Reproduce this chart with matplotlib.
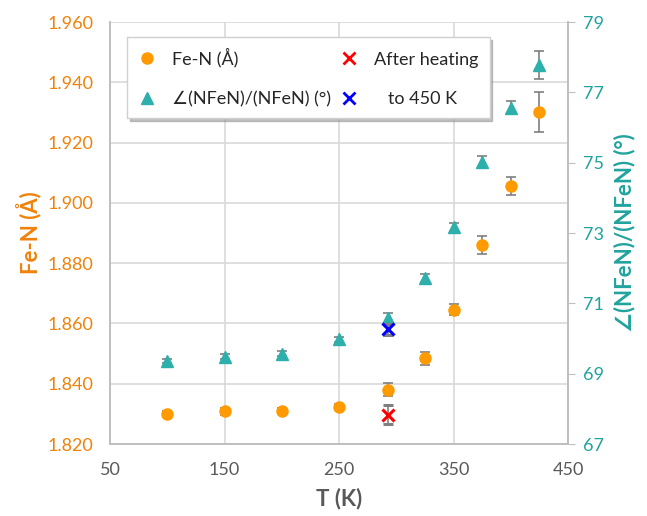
import matplotlib
matplotlib.use("Agg")
import matplotlib.pyplot as plt
from matplotlib.lines import Line2D

plt.rcParams['font.family'] = ['Lato', 'DejaVu Sans']

# data
temps = [100, 150, 200, 250, 293, 325, 350, 375, 400, 425]
fen = [1.8299, 1.8309, 1.8310, 1.8323, 1.8380, 1.8484, 1.8646, 1.8860, 1.9056, 1.9302]
fen_err = [0.0010, 0.0012, 0.0010, 0.0010, 0.0022, 0.0022, 0.0018, 0.0029, 0.0030, 0.0066]
angle = [69.36, 69.48, 69.57, 69.98, 70.59, 71.73, 73.18, 75.03, 76.57, 77.78]
angle_err = [0.06, 0.07, 0.07, 0.07, 0.15, 0.12, 0.12, 0.16, 0.19, 0.40]

heated_T = 293
heated_fen = 1.8297
heated_fen_err = 0.0032
heated_angle = 70.26
heated_angle_err = 0.15

orange = "#FF9A00"
orange_txt = "#F0820A"
teal = "#2DB0AB"
teal_txt = "#21A39D"
grey_txt = "#595959"
err_c = "#7F7F7F"

fig = plt.figure(figsize=(6.47, 5.16), dpi=100)
ax = fig.add_axes([0.170, 0.1395, 0.708, 0.8175])
ax2 = ax.twinx()

ax.errorbar(temps, fen, yerr=fen_err, fmt='o', color=orange, ms=8,
            ecolor=err_c, elinewidth=1.2, capsize=3.5, capthick=1.2, zorder=3)
ax.errorbar([heated_T], [heated_fen], yerr=[heated_fen_err], fmt='x', color='#FF0000',
            ms=9, mew=2.2, ecolor=err_c, elinewidth=1.2, capsize=3.5, capthick=1.2, zorder=4)
ax2.errorbar(temps, angle, yerr=angle_err, fmt='^', color=teal, ms=8,
             ecolor=err_c, elinewidth=1.2, capsize=3.5, capthick=1.2, zorder=3)
ax2.errorbar([heated_T], [heated_angle], yerr=[heated_angle_err], fmt='x', color='#0000FF',
             ms=9, mew=2.2, ecolor=err_c, elinewidth=1.2, capsize=3.5, capthick=1.2, zorder=4)

ax.set_xlim(50, 450)
ax.set_ylim(1.820, 1.960)
ax2.set_ylim(67, 79)
ax.set_xticks([50, 150, 250, 350, 450])
ax.set_yticks([1.82 + 0.02 * i for i in range(8)])
ax.set_yticklabels(["%.3f" % (1.82 + 0.02 * i) for i in range(8)])
ax2.set_yticks([67, 69, 71, 73, 75, 77, 79])

ax.grid(True, color="#D9D9D9", lw=1.2)
ax.set_axisbelow(True)
for a in (ax, ax2):
    a.spines['top'].set_visible(False)
    for sp in ['left', 'bottom', 'right']:
        a.spines[sp].set_color("#BFBFBF")
        a.spines[sp].set_linewidth(1.2)

ax.tick_params(axis='y', length=0, labelsize=13, labelcolor=orange_txt, pad=12)
ax.tick_params(axis='x', length=0, labelsize=13, labelcolor=grey_txt, pad=13)
ax2.tick_params(axis='y', length=5, color="#BFBFBF", labelsize=13, labelcolor=teal_txt, pad=6)

ax.set_xlabel("T (K)", fontsize=16, fontweight='bold', color=grey_txt, labelpad=7)
ax.set_ylabel("Fe-N (Å)", fontsize=16, fontweight='bold', color=orange_txt, labelpad=4)
ax2.set_ylabel("∠(NFeN)/(NFeN) (°)", fontsize=16, fontweight='bold', color=teal_txt,
               labelpad=7)

handles = [
    Line2D([], [], ls='none', marker='o', color=orange, ms=8),
    Line2D([], [], ls='none', marker='^', color=teal, ms=8),
    Line2D([], [], ls='none', marker='x', color='#FF0000', ms=9, mew=2),
    Line2D([], [], ls='none', marker='x', color='#0000FF', ms=9, mew=2),
]
labels = ["Fe-N (Å)", "∠(NFeN)/(NFeN) (°)", "After heating", "   to 450 K"]
leg = ax2.legend(handles, labels, ncol=2, loc='upper left', bbox_to_anchor=(0.037, 0.964),
                 borderaxespad=0, fontsize=13, frameon=True, fancybox=False,
                 shadow={'color': '0.6', 'alpha': 0.6}, handlelength=1.0,
                 handletextpad=0.9, columnspacing=0.5, labelspacing=1.3, borderpad=0.6)
leg.get_frame().set_edgecolor('#D0D0D0')
for t in leg.get_texts():
    t.set_color('#262626')

fig.savefig("out.png", dpi=100)
